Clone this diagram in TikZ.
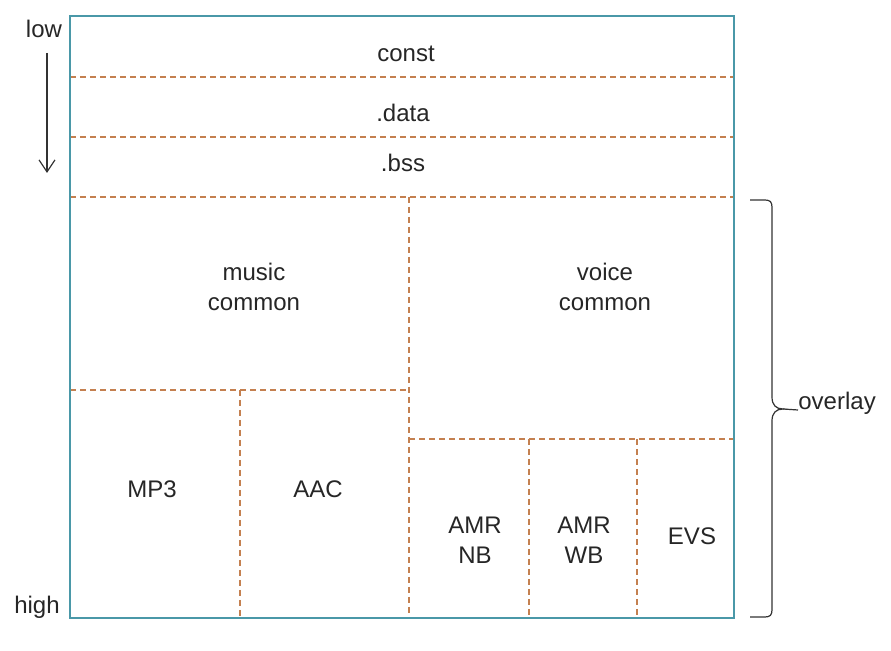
\documentclass[tikz,border=0pt]{standalone}
\usepackage{fontspec}
\setmainfont{Liberation Sans}
\usetikzlibrary{arrows.meta}
\definecolor{boxteal}{RGB}{74,152,168}
\definecolor{dashbrown}{RGB}{196,128,80}
\begin{document}
\begin{tikzpicture}[x=0.5pt,y=-0.5pt,
  lbl/.style={font=\fontsize{12}{15}\selectfont, align=center, inner sep=0pt, text=black!85},
  part/.style={draw=dashbrown, line width=0.7pt, dash pattern=on 3pt off 2pt},
  frame/.style={draw=boxteal, line width=1.3pt},
  thin/.style={draw=black!80, line width=0.6pt}]
\useasboundingbox (0,0) rectangle (891,651);
% partitions
\draw[part] (70,77) -- (734,77);
\draw[part] (70,137) -- (734,137);
\draw[part] (70,197) -- (734,197);
\draw[part] (409,197) -- (409,618);
\draw[part] (70,390) -- (409,390);
\draw[part] (240,390) -- (240,618);
\draw[part] (409,439) -- (734,439);
\draw[part] (529,439) -- (529,618);
\draw[part] (637,439) -- (637,618);
% frame
\draw[frame] (70,16) rectangle (734,618);
% labels
\node[lbl] (const) at (406,54) {const};
\node[lbl] (data) at (403,113) {.data};
\node[lbl] (bss) at (403,163) {.bss};
\node[lbl] (music) at (254,287) {music\\common};
\node[lbl] (voice) at (605,287) {voice\\common};
\node[lbl] (mp3) at (152,489) {MP3};
\node[lbl] (aac) at (318,489) {AAC};
\node[lbl] (amrnb) at (475,540) {AMR\\NB};
\node[lbl] (amrwb) at (584,540) {AMR\\WB};
\node[lbl] (evs) at (692,536) {EVS};
% low/high
\node[lbl] (low) at (44,29) {low};
\node[lbl] (high) at (37,607) {high};
\coordinate (arrtop) at (47,53);
\coordinate (arrbot) at (47,173);
\draw[thin, -{Straight Barb[length=6pt,width=8pt]}] (arrtop) -- (arrbot);
% brace
\coordinate (tip) at (783,409);
\draw[thin] (750,200) -- (765,200) .. controls (770,200) and (772,202) .. (772,207)
  -- (772,397) .. controls (772,405) and (776,409) .. (tip)
  .. controls (776,409) and (772,413) .. (772,421)
  -- (772,610) .. controls (772,615) and (770,617) .. (765,617) -- (750,617);
\node[lbl, anchor=base west] (overlay) at (798,410) {overlay};
\draw[thin] (tip) -- (overlay.base west);
\end{tikzpicture}
\end{document}
